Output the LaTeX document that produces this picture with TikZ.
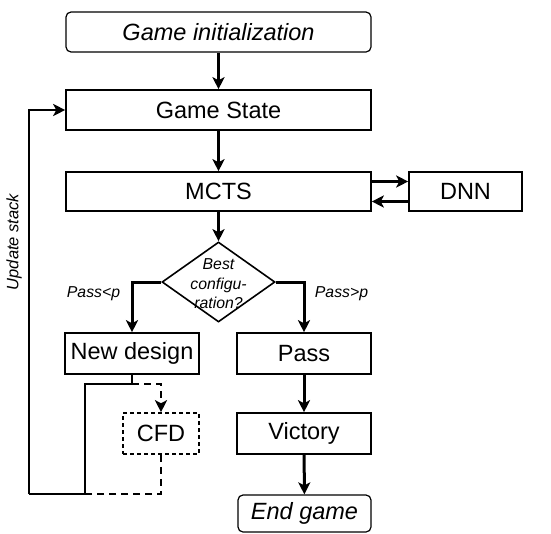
\documentclass[tikz,border=0pt]{standalone}
\usepackage{fontspec}
\setmainfont{Liberation Sans}
\usetikzlibrary{arrows.meta,shapes.geometric}
\begin{document}
\begin{tikzpicture}[x=1pt,y=-1pt,
  box/.style={draw,line width=1.6pt,minimum width=#1,minimum height=40pt,inner sep=0pt,font=\fontsize{23.5}{28}\selectfont},
  rbox/.style={box=#1,rounded corners=5pt,line width=1.2pt},
  tip/.style={-{Stealth[length=12pt,width=12pt,inset=3pt]}},
  arr/.style={line width=3pt,tip},
  loopline/.style={line width=2.8pt},
  dashline/.style={line width=2.5pt,dash pattern=on 7pt off 5pt},
  lbl/.style={font=\fontsize{15.8}{19.5}\selectfont\itshape,inner sep=0pt}]
\useasboundingbox (0,0) rectangle (551,533);
\node[rbox=305pt] (init) at (218.5,32) {\itshape Game initialization};
\node[box=305pt] (gs) at (218.5,110) {Game State};
\node[box=305pt,minimum height=39pt] (mcts) at (218.5,191.5) {MCTS};
\node[box=113pt,minimum height=39pt] (dnn) at (465.5,191.5) {DNN};
\node[draw,diamond,line width=1.6pt,minimum width=113pt,minimum height=80pt,inner sep=0pt] (dia) at (218.5,282) {};
\node[lbl,align=center] (diatext) at (218.5,284) {Best\\configu-\\ration?};
\node[box=134pt,minimum height=41pt] (nd) at (132,353.5) {New design};
\node[box=134pt,minimum height=41pt] (pass) at (304,353.5) {Pass};
\node[box=76pt,minimum height=41pt,dash pattern=on 4pt off 3pt] (cfd) at (161,433.5) {CFD};
\node[box=134pt,minimum height=41pt] (vic) at (304,433.5) {Victory};
\node[rbox=133pt,minimum height=37pt] (end) at (304.5,513.5) {\itshape End game};
\node[lbl] (lpl) at (93.5,294) {Pass<p};
\node[lbl] (lpr) at (341.5,294) {Pass>p};
\node[lbl,rotate=90,font=\fontsize{16.5}{19}\selectfont\itshape] (upd) at (14,242) {Update stack};
\coordinate (j1) at (132,384);
\coordinate (j2) at (85,494);
\coordinate (lp) at (29,494);
\draw[arr] (init) -- (gs);
\draw[arr] (gs) -- (mcts);
\draw[arr] ([yshift=10pt]mcts.east) -- ([yshift=10pt]dnn.west);
\draw[arr] ([yshift=-10pt]dnn.west) -- ([yshift=-10pt]mcts.east);
\draw[arr] (mcts) -- (dia);
\draw[arr] (dia.west) -| (nd.north);
\draw[arr] (dia.east) -| (pass.north);
\draw[arr] (pass) -- (vic);
\draw[arr] (vic) -- (end);
\draw[loopline] (nd.south) -- (j1) -| (j2) -- (lp);
\draw[loopline,tip] (lp) |- (gs.west);
\draw[dashline,tip] (j1) -| (cfd.north);
\draw[dashline] (cfd.south) |- (j2);
\end{tikzpicture}
\end{document}
